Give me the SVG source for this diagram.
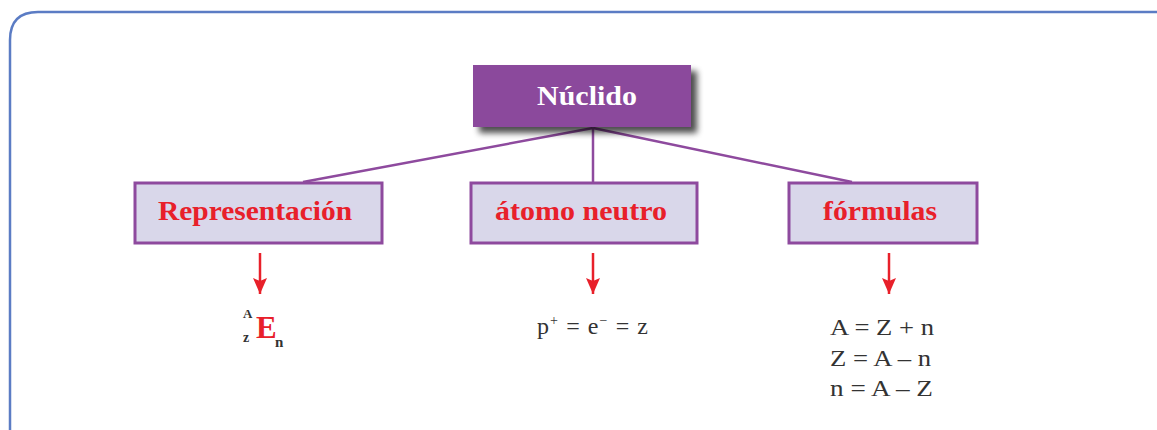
<svg xmlns="http://www.w3.org/2000/svg" width="1157" height="430" viewBox="0 0 1157 430">
<defs>
<style>
.frame{fill:none;stroke:#5b7cc4;stroke-width:2.5}
.box{fill:#d9d7ea;stroke:#8e4a9e;stroke-width:3}
.lbl{font-family:"Liberation Serif",serif;font-weight:bold;font-size:27px;fill:#e8202a;text-anchor:middle}
.conn{stroke:#8e4a9e;stroke-width:2.5;fill:none}
.arr{stroke:#e8202a;stroke-width:2.5;fill:none}
.f{font-family:"Liberation Serif",serif;font-size:24px;fill:#333}
</style>
<filter id="sh" x="-10%" y="-10%" width="130%" height="140%">
<feGaussianBlur in="SourceAlpha" stdDeviation="3"/>
<feOffset dx="6" dy="6"/>
<feComponentTransfer><feFuncA type="linear" slope="0.7"/></feComponentTransfer>
<feMerge><feMergeNode/><feMergeNode in="SourceGraphic"/></feMerge>
</filter>
<marker id="ah" markerWidth="16" markerHeight="14" refX="16" refY="7" orient="auto" markerUnits="userSpaceOnUse" viewBox="0 0 16 14">
<path d="M0,0 L16,7 L0,14 L3,7 Z" fill="#e8202a"/>
</marker>
</defs>
<rect width="1157" height="430" fill="#fff"/>
<path class="frame" d="M10,440 L10,40 Q10,12 38,12 L1170,12"/>
<g id="connectors">
<line class="conn" x1="593" y1="128" x2="303" y2="182"/>
<line class="conn" x1="593" y1="128" x2="593" y2="182"/>
<line class="conn" x1="593" y1="128" x2="852" y2="182"/>
<line class="arr" x1="260" y1="253" x2="260" y2="294" marker-end="url(#ah)"/>
<line class="arr" x1="593" y1="253" x2="593" y2="294" marker-end="url(#ah)"/>
<line class="arr" x1="889" y1="253" x2="889" y2="294" marker-end="url(#ah)"/>
</g>
<g id="nuclido">
<rect x="473" y="65" width="218" height="62" fill="#8b4a9c" filter="url(#sh)"/>
<text x="587" y="105" font-family="Liberation Serif,serif" font-weight="bold" font-size="27" fill="#fff" text-anchor="middle" textLength="100" lengthAdjust="spacingAndGlyphs">Núclido</text>
</g>
<g id="representacion">
<rect class="box" x="135" y="183" width="247" height="60"/>
<text class="lbl" x="255" y="220" textLength="194" lengthAdjust="spacingAndGlyphs">Representación</text>
</g>
<g id="atomo">
<rect class="box" x="471" y="183" width="226" height="60"/>
<text class="lbl" x="581" y="220" textLength="172" lengthAdjust="spacingAndGlyphs">átomo neutro</text>
</g>
<g id="formulas">
<rect class="box" x="789" y="183" width="188" height="60"/>
<text class="lbl" x="880" y="220" textLength="114" lengthAdjust="spacingAndGlyphs">fórmulas</text>
</g>
<g id="rep-val" font-family="Liberation Serif,serif" font-weight="bold">
<text x="243" y="318" font-size="13" fill="#333">A</text>
<text x="243" y="342" font-size="14" fill="#333">z</text>
<text x="256" y="338" font-size="31" fill="#e8202a">E</text>
<text x="275" y="347" font-size="15" fill="#333">n</text>
</g>
<g id="atomo-val">
<text class="f" x="537" y="334" textLength="111">p<tspan font-size="14" dy="-9">+</tspan><tspan dy="9"> = e</tspan><tspan font-size="14" dy="-9">−</tspan><tspan dy="9"> = z</tspan></text>
</g>
<g id="formulas-val">
<text class="f" x="830" y="335" textLength="104" lengthAdjust="spacingAndGlyphs">A = Z + n</text>
<text class="f" x="830" y="366" textLength="101" lengthAdjust="spacingAndGlyphs">Z = A – n</text>
<text class="f" x="830" y="396" textLength="103" lengthAdjust="spacingAndGlyphs">n = A – Z</text>
</g>
</svg>
